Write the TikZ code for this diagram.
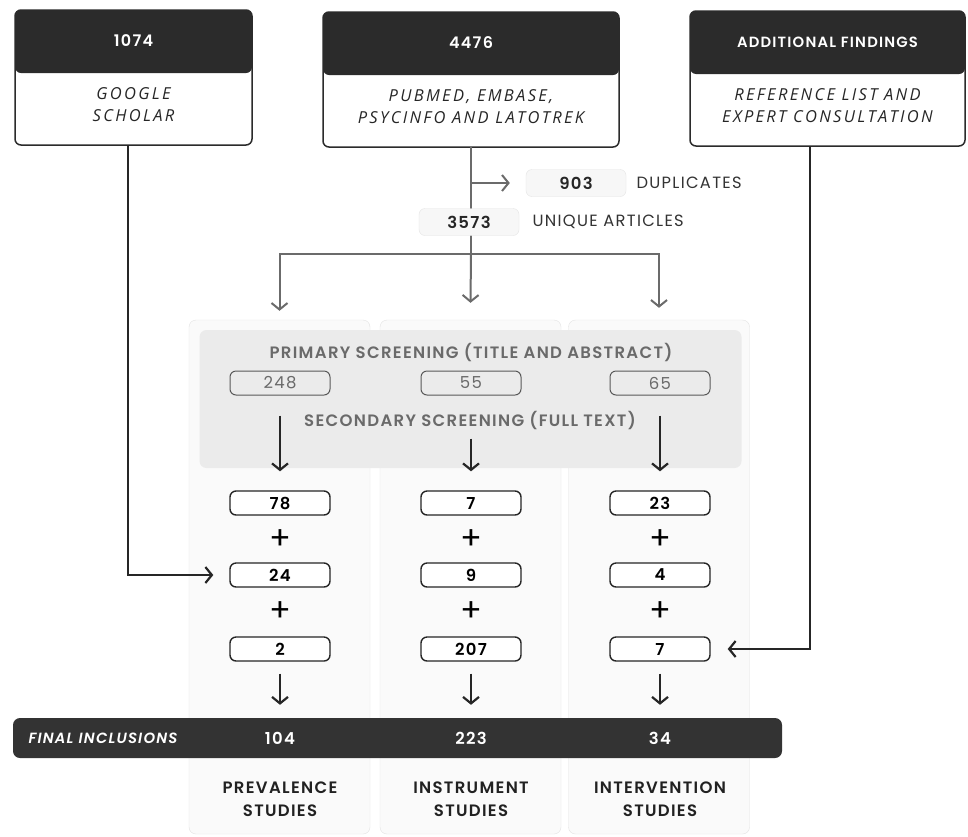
\documentclass[tikz,border=0pt]{standalone}
\usepackage{fontspec}
\setmainfont{Poppins}[BoldFont={Poppins SemiBold},ItalicFont={Poppins Italic},BoldItalicFont={Poppins SemiBold Italic},LetterSpace=8]
\newfontfamily\descfont{Open Sans}[LetterSpace=14]
\usetikzlibrary{arrows.meta,positioning}

\definecolor{headgray}{HTML}{2B2B2B}
\definecolor{bargray}{HTML}{333333}
\definecolor{flowgray}{HTML}{6B6B6B}
\definecolor{bandgray}{HTML}{EBEBEB}
\definecolor{panelgray}{HTML}{FAFAFA}
\definecolor{panelline}{HTML}{E3E3E3}
\definecolor{softgray}{HTML}{F7F7F7}
\definecolor{textgray}{HTML}{6A6A6A}

\tikzset{
  >={Straight Barb[length=6.5pt,width=16pt]},
  srcbox/.style={draw=headgray, line width=1.5pt, rounded corners=6pt, fill=white, minimum height=135pt, inner sep=0pt, outer sep=0pt,
    path picture={\fill[headgray] (path picture bounding box.north west) rectangle ([yshift=-63pt]path picture bounding box.north east);}},
  headtxt/.style={text=white, font=\bfseries\fontsize{16}{18}\selectfont},
  desctxt/.style={align=center, text=black!85, font=\descfont\itshape\fontsize{16.5}{22}\selectfont},
  tagbox/.style={draw=black!10, fill=softgray, rounded corners=6pt, minimum width=100pt, minimum height=27pt, text=black!85, font=\bfseries\fontsize{16.5}{18}\selectfont},
  tagtxt/.style={anchor=west, text=black!80, font=\fontsize{16.3}{18}\selectfont},
  panel/.style={draw=panelline, fill=panelgray, rounded corners=7pt, minimum width=181pt, minimum height=514pt},
  band/.style={fill=bandgray, rounded corners=7pt, minimum width=542pt, minimum height=138pt},
  stagetxt/.style={text=textgray, font=\bfseries\fontsize{16.5}{18}\selectfont},
  screenbox/.style={draw=black!65, line width=1pt, rounded corners=6pt, minimum width=100pt, minimum height=24pt, text=textgray, font=\fontsize{16.5}{18}\selectfont},
  countbox/.style={draw=black!85, line width=1.4pt, fill=white, rounded corners=6pt, minimum width=100pt, minimum height=24pt, inner sep=0pt, font=\bfseries\fontsize{16.5}{18}\selectfont},
  plus/.style={font=\fontsize{32}{32}\selectfont},
  finalbar/.style={fill=bargray, rounded corners=7pt, minimum width=769pt, minimum height=40pt},
  finaltxt/.style={text=white, font=\bfseries\fontsize{16.5}{18}\selectfont},
  studytxt/.style={align=center, text=black!87, font=\bfseries\fontsize{16.5}{23}\selectfont},
  blkline/.style={draw=black!85, line width=2.2pt, ->},
  gryline/.style={draw=flowgray, line width=2pt},
}

\begin{document}
\begin{tikzpicture}[x=1pt, y=-1pt]
  \fill[white] (0,0) rectangle (968,836);
  \useasboundingbox (0,0) rectangle (968,836);

  % sources
  \node[srcbox, minimum width=237pt] (gsbox) at (133.5,77.5) {};
  \node[srcbox, minimum width=296pt] (dbbox) at (471,79.5) {};
  \node[srcbox, minimum width=275pt] (afbox) at (827.5,78.5) {};
  \node[headtxt] (gsnum) at ([yshift=-31pt]gsbox.north) {1074};
  \node[headtxt] (dbnum) at ([yshift=-31pt]dbbox.north) {4476};
  \node[headtxt, font=\bfseries\fontsize{14.8}{16}\selectfont] (afnum) at ([yshift=-31pt]afbox.north) {ADDITIONAL FINDINGS};
  \node[desctxt] (gsname) at ([yshift=-95pt]gsbox.north) {GOOGLE\\SCHOLAR};
  \node[desctxt] (dbname) at ([yshift=-95pt]dbbox.north) {PUBMED, EMBASE,\\PSYCINFO AND LATOTREK};
  \node[desctxt] (afname) at ([yshift=-95pt]afbox.north) {REFERENCE LIST AND\\EXPERT CONSULTATION};

  % duplicates and unique
  \node[tagbox] (dup) at (576,183) {903};
  \node[tagtxt] (duptxt) at (633,183) {DUPLICATES};
  \coordinate (split) at (471,254);
  \draw[gryline] (dbbox.south) -- (split);
  \draw[gryline, ->, shorten >=16pt] (dbbox.south |- dup.west) -- (dup.west);
  \node[tagbox] (uniq) at (469,222) {3573};
  \node[tagtxt] (uniqtxt) at (529,222) {UNIQUE ARTICLES};

  % study columns
  \node[panel] (prev) at (279.5,577) {};
  \node[panel] (inst) at (470.5,577) {};
  \node[panel] (intv) at (659,577) {};
  \draw[gryline, ->] (split) -| ([yshift=9pt]prev.north);
  \draw[gryline, ->] (split) -- ([yshift=17pt]inst.north);
  \draw[gryline, ->] (split) -| ([yshift=12pt]intv.north);

  % screening
  \node[band] (screen) at (470.5,399) {};
  \node[stagetxt] (prim) at (471,352) {PRIMARY SCREENING (TITLE AND ABSTRACT)};
  \node[screenbox] (s1) at (280,383) {248};
  \node[screenbox] (s2) at (471,383) {55};
  \node[screenbox] (s3) at (660,383) {65};
  \node[stagetxt] (sec) at (470,420) {SECONDARY SCREENING (FULL TEXT)};

  % counts per column
  \foreach \col/\x/\a/\b/\c in {p/280/78/24/2, m/471/7/9/207, v/660/23/4/7}{
    \node[countbox] (\col1) at (\x,503) {\a};
    \node[plus] (\col pa) at (\x,540) {+};
    \node[countbox] (\col2) at (\x,575) {\b};
    \node[plus] (\col pb) at (\x,612) {+};
    \node[countbox] (\col3) at (\x,649) {\c};
  }
  \draw[blkline, shorten <=20pt, shorten >=19pt] (s1.south) -- (p1.north);
  \draw[blkline, shorten <=43pt, shorten >=19pt] (s2.south) -- (m1.north);
  \draw[blkline, shorten <=20pt, shorten >=19pt] (s3.south) -- (v1.north);

  % final inclusions
  \node[finalbar] (final) at (397.5,738) {};
  \node[finaltxt, anchor=west, font=\bfseries\itshape\fontsize{14.8}{18}\selectfont] (finlab) at (25,738) {FINAL INCLUSIONS};
  \node[finaltxt] (fp) at (280,738) {104};
  \node[finaltxt] (fm) at (471,738) {223};
  \node[finaltxt] (fv) at (660,738) {34};
  \foreach \col in {p, m, v}
    \draw[blkline, shorten <=12pt, shorten >=13pt] (\col3.south) -- (\col3.south |- final.north);

  \node[studytxt] (prevlab) at (280,799) {PREVALENCE\\STUDIES};
  \node[studytxt] (instlab) at (471,799) {INSTRUMENT\\STUDIES};
  \node[studytxt] (intvlab) at (660,799) {INTERVENTION\\STUDIES};

  % extra sources
  \draw[blkline, shorten >=16pt] ([xshift=-5.5pt]gsbox.south) |- (p2.west);
  \draw[blkline, shorten >=17pt] ([xshift=-17.5pt]afbox.south) |- (v3.east);
\end{tikzpicture}
\end{document}
